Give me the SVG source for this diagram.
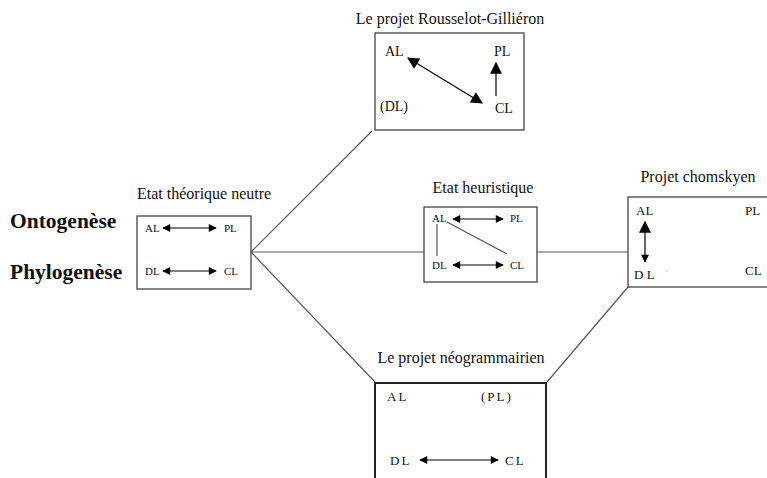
<svg xmlns="http://www.w3.org/2000/svg" width="767" height="478" viewBox="0 0 767 478">
<defs>
<marker id="ah" viewBox="0 0 10 10" refX="9" refY="5" markerWidth="9" markerHeight="8" markerUnits="userSpaceOnUse" orient="auto-start-reverse"><path d="M0,0 L10,5 L0,10 z" fill="#000"/></marker>
<marker id="ahb" viewBox="0 0 10 10" refX="9" refY="5" markerWidth="13" markerHeight="12" markerUnits="userSpaceOnUse" orient="auto-start-reverse"><path d="M0,0 L10,5 L0,10 z" fill="#000"/></marker>
</defs>
<style>
text{font-family:"Liberation Serif","Times New Roman",serif;fill:#111}
.t{font-size:16px}
.l{font-size:14px}
.s{font-size:11px}
.m{font-size:13px}
.b{font-size:21.5px;font-weight:bold}
.box{fill:#fff;stroke:#444;stroke-width:1.3}
.c{stroke:#555;stroke-width:1.2;fill:none}
.a{stroke:#000;stroke-width:1.2;fill:none}
</style>
<rect width="767" height="478" fill="#fff"/>
<g id="connectors">
<line class="c" x1="251" y1="252" x2="372" y2="131"/>
<line class="c" x1="251" y1="252" x2="424" y2="252"/>
<line class="c" x1="251" y1="252" x2="375" y2="382"/>
<line class="c" x1="537" y1="252" x2="628" y2="252"/>
<line class="c" x1="628" y1="287" x2="547" y2="382"/>
</g>
<g id="labels">
<text class="b" x="10" y="228">Ontogenèse</text>
<text class="b" x="10" y="279">Phylogenèse</text>
</g>
<g id="rousselot">
<text class="t" x="450" y="24" text-anchor="middle">Le projet Rousselot-Gilliéron</text>
<rect class="box" x="375" y="33" width="149" height="97"/>
<text class="l" x="385" y="56">AL</text>
<text class="l" x="494" y="56">PL</text>
<text class="l" x="380" y="111">(DL)</text>
<text class="l" x="495" y="113">CL</text>
<line class="a" x1="408" y1="58" x2="482" y2="103" marker-start="url(#ahb)" marker-end="url(#ahb)"/>
<line class="a" x1="496" y1="96" x2="496" y2="63" marker-end="url(#ahb)"/>
</g>
<g id="neutre">
<text class="t" x="137" y="199">Etat théorique neutre</text>
<rect class="box" x="137" y="216" width="114" height="73"/>
<text class="s" x="145" y="232">AL</text>
<text class="s" x="224" y="232">PL</text>
<text class="s" x="145" y="275">DL</text>
<text class="s" x="224" y="275">CL</text>
<line class="a" x1="163" y1="228" x2="216" y2="228" marker-start="url(#ah)" marker-end="url(#ah)"/>
<line class="a" x1="163" y1="271" x2="216" y2="271" marker-start="url(#ah)" marker-end="url(#ah)"/>
</g>
<g id="heuristique">
<text class="t" x="483" y="193" text-anchor="middle">Etat heuristique</text>
<rect class="box" x="424" y="207" width="113" height="75"/>
<text class="s" x="432" y="222">AL</text>
<text class="s" x="510" y="222">PL</text>
<text class="s" x="432" y="269">DL</text>
<text class="s" x="510" y="269">CL</text>
<line class="a" x1="453" y1="219" x2="503" y2="219" marker-start="url(#ah)" marker-end="url(#ah)"/>
<line class="a" x1="453" y1="265" x2="503" y2="265" marker-start="url(#ah)" marker-end="url(#ah)"/>
<line class="c" x1="437" y1="224" x2="437" y2="256"/>
<line class="c" x1="447" y1="222" x2="507" y2="254"/>
</g>
<g id="chomskyen">
<text class="t" x="698" y="182" text-anchor="middle">Projet chomskyen</text>
<rect class="box" x="628" y="197" width="150" height="90"/>
<text class="m" x="636" y="215">AL</text>
<text class="m" x="745" y="215">PL</text>
<text class="m" x="634" y="279">D L</text>
<text class="m" x="745" y="275">CL</text>
<line class="a" x1="645" y1="222" x2="645" y2="262" marker-start="url(#ahb)" marker-end="url(#ah)"/>
<circle cx="667" cy="271" r="0.6" fill="#999"/>
</g>
<g id="neogrammairien">
<text class="t" x="461" y="363" text-anchor="middle">Le projet néogrammairien</text>
<rect x="375" y="383" width="171" height="110" fill="#fff" stroke="#222" stroke-width="2"/>
<text class="m" x="387" y="401" letter-spacing="2">AL</text>
<text class="m" x="481" y="401" letter-spacing="2">(PL)</text>
<text class="m" x="390" y="465" letter-spacing="2">DL</text>
<text class="m" x="505" y="465" letter-spacing="2">CL</text>
<line class="a" x1="420" y1="460" x2="498" y2="460" marker-start="url(#ah)" marker-end="url(#ah)"/>
</g>
</svg>
